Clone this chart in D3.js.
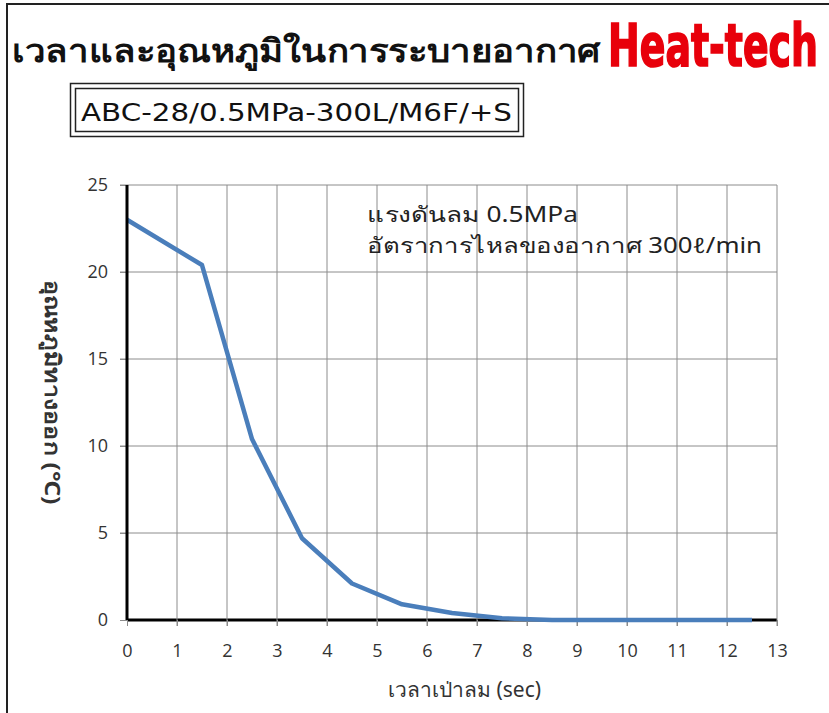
<!DOCTYPE html>
<html>
<head>
<meta charset="utf-8">
<script src="https://cdn.jsdelivr.net/npm/d3@7"></script>
<style>
  body { margin: 0; background: #fff; }
  text { font-family: "Noto Sans", "DejaVu Sans", sans-serif; }
</style>
</head>
<body>
<script>
const width = 829;
const height = 713;
const margin = { left: 127, top: 185, right: 52, bottom: 93 };
const g_width = width - margin.left - margin.right;
const g_height = height - margin.top - margin.bottom;

// blow time (sec) and outlet temperature (deg C)
const times = [0, 1.5, 2.5, 3.5, 4.5, 5.5, 6.5, 7.5, 8.5, 9.5, 10.5, 11.5, 12.5];
const temps = [23.0, 20.4, 10.4, 4.7, 2.1, 0.9, 0.4, 0.1, 0, 0, 0, 0, 0];
const xTicks = d3.range(0, 14);
const yTicks = [0, 5, 10, 15, 20, 25];

const svg = d3.select("body").append("svg")
    .attr("width", width)
    .attr("height", height);

svg.append('rect')
    .attr('width', width)
    .attr('height', height)
    .attr('fill', 'white');

// outer frame (right/bottom edges fall outside the picture)
svg.append('rect')
    .attr('x', 7)
    .attr('y', 4)
    .attr('width', width + 10)
    .attr('height', height + 10)
    .attr('fill', 'none')
    .attr('stroke', '#222')
    .attr('stroke-width', 2);

// title
svg.append('text')
    .attr('x', 12)
    .attr('y', 62)
    .attr('font-size', 32)
    .attr('font-weight', 'bold')
    .attr('fill', '#111')
    .attr('textLength', 588)
    .attr('lengthAdjust', 'spacingAndGlyphs')
    .text('เวลาและอุณหภูมิในการระบายอากาศ');

svg.append('text')
    .attr('transform', 'translate(608, 66) scale(1, 1.35)')
    .attr('font-size', 43)
    .attr('font-weight', 'bold')
    .style('font-family', '"Liberation Sans Narrow", "DejaVu Sans Condensed", sans-serif')
    .attr('fill', '#e8000b')
    .attr('stroke', '#e8000b')
    .attr('stroke-width', 1.2)
    .attr('textLength', 210)
    .attr('lengthAdjust', 'spacingAndGlyphs')
    .text('Heat-tech');

// model box with double border
svg.append('rect')
    .attr('x', 70.5).attr('y', 83.5)
    .attr('width', 453).attr('height', 53)
    .attr('fill', 'none').attr('stroke', '#222').attr('stroke-width', 1.5);
svg.append('rect')
    .attr('x', 75.5).attr('y', 88.5)
    .attr('width', 443).attr('height', 43)
    .attr('fill', 'none').attr('stroke', '#222').attr('stroke-width', 1.5);
svg.append('text')
    .attr('x', 81)
    .attr('y', 121)
    .attr('font-size', 24)
    .attr('fill', '#111')
    .style('font-family', '"DejaVu Sans", sans-serif')
    .attr('textLength', 431)
    .attr('lengthAdjust', 'spacingAndGlyphs')
    .text('ABC-28/0.5MPa-300L/M6F/+S');

const x = d3.scaleLinear().domain([0, 13]).range([0, g_width]);
const y = d3.scaleLinear().domain([0, 25]).range([g_height, 0]);

const g = svg.append('g')
    .attr('transform', `translate(${margin.left}, ${margin.top})`);

// grid
g.append('g')
    .selectAll('line')
    .data(xTicks.slice(1))
    .join('line')
    .attr('x1', d => x(d)).attr('x2', d => x(d))
    .attr('y1', 0).attr('y2', g_height + 6)
    .attr('stroke', '#8c8c8c').attr('stroke-width', 1);

g.append('g')
    .selectAll('line')
    .data(yTicks.slice(1))
    .join('line')
    .attr('x1', -7).attr('x2', g_width)
    .attr('y1', d => y(d)).attr('y2', d => y(d))
    .attr('stroke', '#8c8c8c').attr('stroke-width', 1);

// axes
const xAxis = g.append('g')
    .attr('transform', `translate(0, ${g_height})`)
    .call(d3.axisBottom(x).tickValues(xTicks).tickSize(6).tickPadding(22));
const yAxis = g.append('g')
    .call(d3.axisLeft(y).tickValues(yTicks).tickSize(7).tickPadding(12));

[xAxis, yAxis].forEach(a => {
    a.select('.domain').remove();
    a.selectAll('line').attr('stroke', '#8c8c8c');
    a.selectAll('text')
        .attr('font-size', 18)
        .attr('fill', '#333')
        .style('font-family', '"Open Sans", "Noto Sans", sans-serif');
});
xAxis.selectAll('text').attr('dy', '0.5em');

// line
const line = d3.line()
    .x((d, i) => x(times[i]))
    .y(d => y(d));

g.append('path')
    .datum(temps)
    .attr('d', line)
    .attr('fill', 'none')
    .attr('stroke', '#4a7ebb')
    .attr('stroke-width', 4.5)
    .attr('stroke-linejoin', 'round');

// thick axis lines
g.append('line')
    .attr('x1', 0).attr('x2', 0)
    .attr('y1', 0).attr('y2', g_height)
    .attr('stroke', 'black').attr('stroke-width', 3);
g.append('line')
    .attr('x1', 0).attr('x2', g_width)
    .attr('y1', g_height).attr('y2', g_height)
    .attr('stroke', 'black').attr('stroke-width', 3)
    .lower();

// annotation
const note = g.append('text')
    .attr('font-size', 21)
    .attr('fill', '#222');
note.append('tspan')
    .attr('x', 240).attr('y', 37)
    .attr('textLength', 211)
    .attr('lengthAdjust', 'spacingAndGlyphs')
    .text('แรงดันลม 0.5MPa');
note.append('tspan')
    .attr('x', 240).attr('y', 68)
    .attr('textLength', 395)
    .attr('lengthAdjust', 'spacingAndGlyphs')
    .text('อัตราการไหลของอากาศ 300ℓ/min');

// axis titles
svg.append('text')
    .attr('x', margin.left + x(6.75))
    .attr('y', 697)
    .attr('text-anchor', 'middle')
    .attr('font-size', 21)
    .attr('fill', '#333')
    .text('เวลาเป่าลม  (sec)');

svg.append('text')
    .attr('transform', `translate(45, 392) rotate(90)`)
    .attr('text-anchor', 'middle')
    .attr('font-size', 21)
    .attr('font-weight', 'bold')
    .attr('fill', '#333')
    .attr('textLength', 225)
    .attr('lengthAdjust', 'spacingAndGlyphs')
    .text('อุณหภูมิทางออก (℃)');
</script>
</body>
</html>
